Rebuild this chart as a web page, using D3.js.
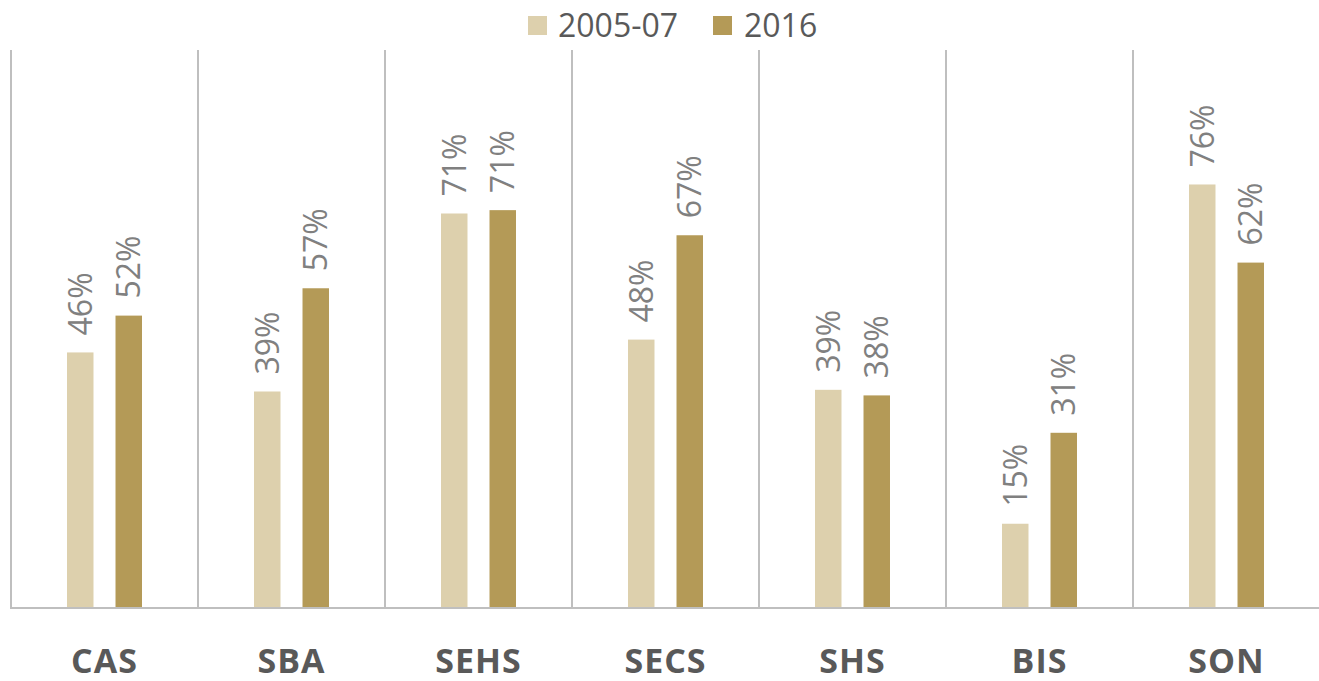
<!DOCTYPE html>
<html>
<head>
<meta charset="utf-8">
<script src="https://cdn.jsdelivr.net/npm/d3@7"></script>
<style>
  html, body { margin: 0; padding: 0; background: #fff; }
  svg { display: block; font-family: "Open Sans", sans-serif; }
</style>
</head>
<body>
<svg id="chart" width="1319" height="681"></svg>
<script>
const categories = ["CAS", "SBA", "SEHS", "SECS", "SHS", "BIS", "SON"];
const seriesNames = ["2005-07", "2016"];
const values2005 = [45.8, 38.8, 70.7, 48.1, 39.1, 15.1, 75.9];
const values2016 = [52.4, 57.3, 71.3, 66.8, 38.1, 31.4, 61.9];
const labels2005 = ["46%", "39%", "71%", "48%", "39%", "15%", "76%"];
const labels2016 = ["52%", "57%", "71%", "67%", "38%", "31%", "62%"];
const colors = ["#DDD0AD", "#B49A57"];

(function () {
const svg = d3.select("#chart");
const mLeft = 11, mRight = 1320, mTop = 50, mBottom = 608;

const x0 = d3.scaleBand().domain(categories).range([mLeft, mRight]).padding(0);
const x1 = d3.scaleBand().domain(seriesNames).range([0, x0.bandwidth()])
  .paddingInner(0.454).paddingOuter(1.155);
const y = d3.scaleLinear().domain([0, 100]).range([mBottom, mTop]);

const rows = categories.map((c, i) => ({
  cat: c,
  items: [
    { s: seriesNames[0], v: values2005[i], label: labels2005[i], color: colors[0] },
    { s: seriesNames[1], v: values2016[i], label: labels2016[i], color: colors[1] }
  ]
}));

const gridColor = "#BFBFBF";
svg.append("g").selectAll("line")
  .data(categories)
  .join("line")
  .attr("x1", d => x0(d)).attr("x2", d => x0(d))
  .attr("y1", mTop).attr("y2", mBottom)
  .attr("stroke", gridColor).attr("stroke-width", 2);

const groups = svg.append("g").selectAll("g")
  .data(rows).join("g")
  .attr("transform", d => `translate(${x0(d.cat)},0)`);

groups.selectAll("rect")
  .data(d => d.items).join("rect")
  .attr("x", d => x1(d.s))
  .attr("y", d => y(d.v))
  .attr("width", x1.bandwidth())
  .attr("height", d => y(0) - y(d.v))
  .attr("fill", d => d.color);

groups.selectAll("text")
  .data(d => d.items).join("text")
  .attr("transform", d => `translate(${x1(d.s) + x1.bandwidth() / 2},${y(d.v) - 17}) rotate(-90)`)
  .attr("dy", "0.36em")
  .attr("text-anchor", "start")
  .attr("font-size", 32)
  .attr("fill", "#808080")
  .text(d => d.label);

svg.append("line")
  .attr("x1", mLeft - 1).attr("x2", mRight)
  .attr("y1", mBottom).attr("y2", mBottom)
  .attr("stroke", gridColor).attr("stroke-width", 2);

const xAxis = d3.axisBottom(x0).tickSize(0).tickPadding(0);
const ax = svg.append("g").attr("transform", `translate(0,${mBottom})`).call(xAxis);
ax.select(".domain").remove();
ax.selectAll("text")
  .attr("y", 65)
  .attr("dy", 0)
  .attr("font-size", 34)
  .attr("font-weight", "bold")
  .attr("letter-spacing", 1)
  .attr("font-family", "'Open Sans', sans-serif")
  .attr("fill", "#595959");

const legendItems = [
  { name: seriesNames[0], color: colors[0], sx: 528, tx: 558 },
  { name: seriesNames[1], color: colors[1], sx: 713, tx: 744 }
];
const lg = svg.append("g");
lg.selectAll("rect").data(legendItems).join("rect")
  .attr("x", d => d.sx).attr("y", 16).attr("width", 19).attr("height", 19)
  .attr("fill", d => d.color);
lg.selectAll("text").data(legendItems).join("text")
  .attr("x", d => d.tx).attr("y", 37)
  .attr("font-size", 32)
  .attr("fill", "#595959")
  .text(d => d.name);
})();
</script>
</body>
</html>
